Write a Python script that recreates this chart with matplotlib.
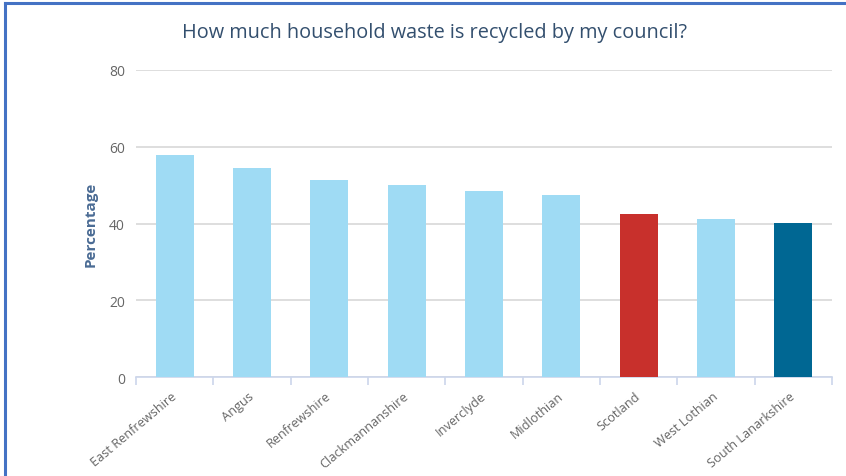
import matplotlib.pyplot as plt
import numpy as np
from matplotlib.lines import Line2D

plt.rcParams['font.family'] = ['Open Sans', 'DejaVu Sans']

# 数据
councils = ['East Renfrewshire', 'Angus', 'Renfrewshire', 'Clackmannanshire',
            'Inverclyde', 'Midlothian', 'Scotland', 'West Lothian',
            'South Lanarkshire']
recycled = [57.9, 54.6, 51.4, 50.0, 48.6, 47.4, 42.5, 41.2, 40.2]
bar_colors = ['#9fdbf4'] * 6 + ['#c8302c', '#9fdbf4', '#006793']
y_ticks = [0, 20, 40, 60, 80]

fig = plt.figure(figsize=(8.46, 4.77), dpi=100)
ax = fig.add_axes([0.1608, 0.2069, 0.8227, 0.6443])

x = np.arange(len(councils))
ax.bar(x, recycled, width=0.49, color=bar_colors, zorder=3)

ax.set_xlim(-0.5, len(councils) - 0.5)
ax.set_ylim(0, 80)
ax.set_yticks(y_ticks)
ax.grid(axis='y', color='#d8d8d8', linewidth=1.2, zorder=0)
ax.tick_params(axis='y', length=0, pad=8, labelsize=10, labelcolor='#666666')

ax.set_xticks(x)
ax.set_xticklabels(councils, rotation=40, ha='right', va='center',
                   rotation_mode='anchor', fontsize=9.2, color='#666666')
ax.tick_params(axis='x', which='major', length=0, pad=12)
ax.set_xticks(np.arange(-0.5, len(councils)), minor=True)
ax.tick_params(axis='x', which='minor', length=6, width=1.2, color='#ccd6eb')

for s in ['top', 'right', 'left']:
    ax.spines[s].set_visible(False)
ax.spines['bottom'].set_color('#ccd6eb')
ax.spines['bottom'].set_linewidth(1.2)

ax.set_ylabel('Percentage', fontsize=11, fontweight='bold', color='#4a6b94',
              labelpad=8)
fig.text(0.5136, 0.931, 'How much household waste is recycled by my council?',
         ha='center', va='center', fontsize=14.3, color='#334f6e')

# 边框
fig.add_artist(Line2D([0.006, 1], [0.991, 0.991], color='#4472c4', lw=2.2))
fig.add_artist(Line2D([0.006, 0.006], [0, 0.991], color='#4472c4', lw=2.2))

plt.savefig('out.png', dpi=100)
